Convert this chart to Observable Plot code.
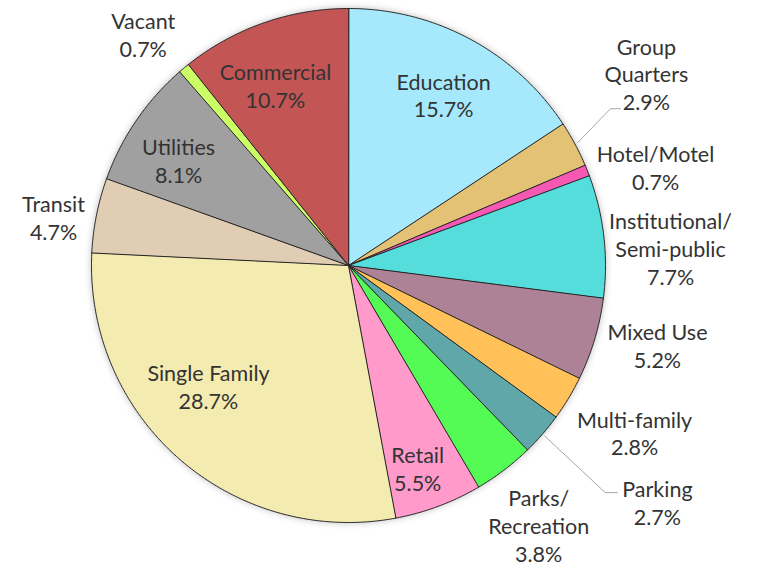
<!DOCTYPE html>
<html>
<head>
<meta charset="utf-8">
<script src="https://cdn.jsdelivr.net/npm/d3@7"></script>
<script src="https://cdn.jsdelivr.net/npm/@observablehq/plot@0.6"></script>
<style>
  html, body { margin: 0; padding: 0; background: #fff; }
  #chart { width: 763px; height: 569px; }
</style>
</head>
<body>
<div id="chart"></div>
<script>
// ---- data ----
const categories = ["Education", "Group Quarters", "Hotel/Motel", "Institutional/Semi-public", "Mixed Use", "Multi-family", "Parking", "Parks/Recreation", "Retail", "Single Family", "Transit", "Utilities", "Vacant", "Commercial"];
const labelNames = ["Education", "Group\nQuarters", "Hotel/Motel", "Institutional/\nSemi-public", "Mixed Use", "Multi-family", "Parking", "Parks/\nRecreation", "Retail", "Single Family", "Transit", "Utilities", "Vacant", "Commercial"];
const shares = [15.7, 2.9, 0.7, 7.7, 5.2, 2.8, 2.7, 3.8, 5.5, 28.7, 4.7, 8.1, 0.7, 10.7];
const colors = ["#a6e9fd", "#e3c275", "#f658b4", "#55dddc", "#ad8296", "#ffc158", "#5fa7a9", "#55fb55", "#ff9acb", "#f3ebb0", "#e1cdb3", "#a0a0a0", "#ccff66", "#c35555"];

// ---- layout (label placement: radius as fraction of pie radius, angle shift in degrees from slice middle) ----
const labelRadius = [0.761, 1.379, 1.254, 1.255, 1.241, 1.289, 1.513, 1.253, 0.834, 0.720, 1.163, 0.779, 1.205, 0.756];
const labelShift  = [0.8, -4.6, 4.0, 3.4, -2.3, -0.8, -3.6, 1.1, 1.7, 8.1, -2.0, -2.4, -1.7, -2.8];
// leader lines: [category, corner radius fraction, corner angle shift, horizontal length px]
const leaders = [["Group Quarters", 1.188, -2.7, 10], ["Parking", 1.334, 0.5, 12]];

const W = 763, H = 569, CX = 348, CY = 265, R = 257;

const rows = categories.map((name, i) => ({name, label: labelNames[i] + "\n" + shares[i].toFixed(1) + "%", share: shares[i], color: colors[i]}));
const arcs = d3.pie().sort(null).value(d => d.share)(rows);
const deg = Math.PI / 180;
const pt = (a, r) => ({x: r * Math.sin(a), y: -r * Math.cos(a)});

// slice polygons
const slicePts = [];
arcs.forEach(a => {
  const n = Math.max(2, Math.ceil((a.endAngle - a.startAngle) / (0.4 * deg)));
  slicePts.push({name: a.data.name, color: a.data.color, ...pt(0, 0)});
  for (let k = 0; k <= n; k++) {
    const ang = a.startAngle + (a.endAngle - a.startAngle) * k / n;
    slicePts.push({name: a.data.name, color: a.data.color, ...pt(ang, 1)});
  }
});

// labels
const labels = arcs.map((a, i) => {
  const mid = (a.startAngle + a.endAngle) / 2 + labelShift[i] * deg;
  return {text: a.data.label, ...pt(mid, labelRadius[i])};
});

// leader lines
const leaderPts = [];
leaders.forEach(([name, rf, shift, len]) => {
  const a = arcs.find(d => d.data.name === name);
  const mid = (a.startAngle + a.endAngle) / 2;
  const s = pt(mid, 1.012);
  const c = pt(mid + shift * deg, rf);
  leaderPts.push({name, ...s}, {name, ...c}, {name, x: c.x + len / R, y: c.y});
});

const chart = Plot.plot({
  width: W,
  height: H,
  margin: 0,
  style: {background: "#fff", overflow: "visible"},
  x: {domain: [-CX / R, (W - CX) / R], range: [0, W], axis: null},
  y: {domain: [-CY / R, (H - CY) / R], range: [0, H], axis: null},
  color: {type: "identity"},
  marks: [
    Plot.dot([{x: 0, y: 0}], {x: "x", y: "y", r: R + 1, fill: "#000", fillOpacity: 0.22, stroke: null}),
    Plot.line(slicePts, {x: "x", y: "y", z: "name", fill: "color", stroke: "#262626", strokeWidth: 1, curve: "linear-closed", strokeLinejoin: "miter"}),
    Plot.line(leaderPts, {x: "x", y: "y", z: "name", stroke: "#a6a6a6", strokeWidth: 1}),
    Plot.text(labels, {x: "x", y: "y", text: "text", fontSize: 21.5, lineHeight: 1.3, fill: "#333333", fontFamily: "Lato"})
  ]
});
d3.select(chart).select('g[aria-label="dot"]').style("filter", "blur(3px)");
document.getElementById("chart").appendChild(chart);
</script>
</body>
</html>
